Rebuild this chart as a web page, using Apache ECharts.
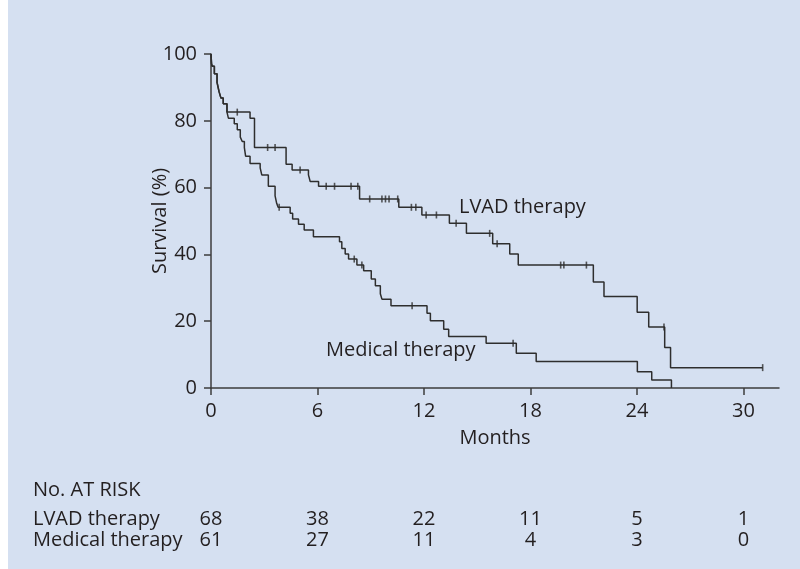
<!DOCTYPE html>
<html>
<head>
<meta charset="utf-8">
<script src="https://cdn.jsdelivr.net/npm/echarts@6/dist/echarts.min.js"></script>
<style>
  html, body { margin: 0; padding: 0; background: #ffffff; }
  #chart {
    width: 800px; height: 569px;
    background: linear-gradient(to right, #ffffff 0, #ffffff 8px, #d5e0f1 8px);
  }
</style>
</head>
<body>
<div id="chart"></div>
<script>
// Kaplan-Meier survival, LVAD therapy vs medical therapy (months, % surviving)
const lvadTimes = [0, 0.03, 0.07, 0.19, 0.34, 0.45, 0.56, 0.69, 0.9, 2.2, 2.45, 4.23, 4.57, 5.49, 5.59, 6.06,
  8.37, 10.58, 11.88, 13.43, 14.39, 15.87, 16.83, 17.31, 21.54, 22.14, 24.01, 24.66, 25.56, 25.89, 31.08];
const lvadSurvival = [100, 97.1, 96.3, 94.1, 91.5, 88.8, 86.8, 85.1, 82.6, 80.8, 72.0, 67.0, 65.3, 63.8, 61.8, 60.4,
  56.6, 54.1, 51.8, 49.3, 46.3, 43.2, 40.1, 36.8, 31.7, 27.4, 22.7, 18.3, 12.1, 6.1, 6.1];
const lvadCensored = [1.48, 3.19, 3.61, 5.02, 6.49, 6.96, 7.89, 8.27, 8.94, 9.63, 9.83, 10.03, 10.52, 11.29, 11.54,
  12.12, 12.70, 13.81, 15.70, 16.12, 19.70, 19.88, 21.15, 25.52, 31.08];

const medTimes = [0, 0.03, 0.07, 0.19, 0.34, 0.45, 0.56, 0.69, 0.9, 0.98, 1.31, 1.48, 1.65, 1.76, 1.88, 1.95, 2.2,
  2.77, 2.86, 3.23, 3.61, 3.7, 3.78, 4.46, 4.6, 4.93, 5.25, 5.77, 7.24, 7.37, 7.56, 7.75, 8.22, 8.6, 9.03, 9.26,
  9.54, 9.63, 10.14, 12.17, 12.36, 13.11, 13.39, 15.5, 17.2, 18.32, 24.02, 24.83, 25.94];
const medSurvival = [100, 97.1, 96.3, 94.1, 91.5, 88.8, 86.8, 85.1, 82.6, 80.8, 79.1, 77.3, 75.1, 73.8, 72.0, 69.4, 67.2,
  65.9, 63.8, 60.4, 57.5, 55.3, 54.1, 52.3, 50.6, 49.0, 47.3, 45.3, 43.8, 41.8, 40.1, 38.6, 36.8, 35.1, 32.6, 30.6,
  28.2, 26.6, 24.6, 22.4, 20.1, 17.6, 15.4, 13.4, 10.4, 7.9, 4.9, 2.4, 0];
const medCensored = [3.84, 8.07, 8.5, 11.33, 17.02];

const monthTicks = [0, 6, 12, 18, 24, 30];
const riskTitle = 'No. AT RISK';
const groupNames = ['LVAD therapy', 'Medical therapy'];
const lvadAtRisk = [68, 38, 22, 11, 5, 1];
const medAtRisk = [61, 27, 11, 4, 3, 0];

const INK = '#231f20';
const LINE = '#2e2e2e';
const FONT = 'Open Sans';

function curve(times, surv) {
  return times.map((t, i) => [t, surv[i]]);
}
// survival level of a step curve at time t
function levelAt(times, surv, t) {
  let s = surv[0];
  for (let i = 0; i < times.length; i++) if (times[i] <= t) s = surv[i];
  return s;
}
function censorMarks(ct, times, surv) {
  return ct.map(t => [t, levelAt(times, surv, t)]);
}

const chart = echarts.init(document.getElementById('chart'), null, { renderer: 'canvas' });

const textBase = { fontFamily: FONT, fontSize: 20, color: INK };

chart.setOption({
  animation: false,
  backgroundColor: 'transparent',
  grid: { left: 211, right: 21, top: 54, bottom: 181, containLabel: false, outerBoundsMode: 'none' },
  xAxis: {
    type: 'value', min: 0, max: 32,
    name: 'Months', nameLocation: 'middle', nameGap: 40, nameMoveOverlap: false,
    nameTextStyle: textBase,
    axisLine: { show: true, lineStyle: { color: '#3c3c3c', width: 1.5 } },
    axisTick: { show: true, length: 7, customValues: monthTicks, lineStyle: { color: '#3c3c3c', width: 1.5 } },
    axisLabel: Object.assign({ customValues: monthTicks, margin: 13 }, textBase),
    splitLine: { show: false }
  },
  yAxis: {
    type: 'value', min: 0, max: 100, interval: 20,
    name: 'Survival (%)', nameLocation: 'middle', nameGap: 41, nameRotate: 90, nameMoveOverlap: false,
    nameTextStyle: textBase,
    axisLine: { show: true, lineStyle: { color: '#3c3c3c', width: 1.5 } },
    axisTick: { show: true, length: 7, lineStyle: { color: '#3c3c3c', width: 1.5 } },
    axisLabel: Object.assign({ margin: 14 }, textBase),
    splitLine: { show: false }
  },
  series: [
    {
      name: groupNames[0], type: 'line', step: 'end', showSymbol: false,
      data: curve(lvadTimes, lvadSurvival),
      lineStyle: { color: LINE, width: 1.5 }, z: 3
    },
    {
      name: groupNames[1], type: 'line', step: 'end', showSymbol: false,
      data: curve(medTimes, medSurvival),
      lineStyle: { color: LINE, width: 1.5 }, z: 3
    },
    {
      type: 'scatter', symbol: 'rect', symbolSize: [1.6, 7],
      data: censorMarks(lvadCensored, lvadTimes, lvadSurvival),
      itemStyle: { color: LINE }, z: 4
    },
    {
      type: 'scatter', symbol: 'rect', symbolSize: [1.6, 7],
      data: censorMarks(medCensored, medTimes, medSurvival),
      itemStyle: { color: LINE }, z: 4
    }
  ]
});

function label(text, x, y) {
  return {
    type: 'text', x: x, y: y,
    style: { text: text, fontFamily: FONT, fontSize: 20, fill: INK, align: 'left', verticalAlign: 'middle' }
  };
}

// curve labels and the at-risk table, aligned to the month ticks
const elements = [
  label(groupNames[0], 459, 207),
  label(groupNames[1], 326, 350),
  label(riskTitle, 33, 490),
  label(groupNames[0], 33, 519),
  label(groupNames[1], 33, 540)
];
const rows = [[lvadAtRisk, 519], [medAtRisk, 540]];
rows.forEach(([counts, cy]) => {
  counts.forEach((n, i) => {
    const px = chart.convertToPixel({ xAxisIndex: 0 }, monthTicks[i]);
    elements.push({
      type: 'text', x: px, y: cy,
      style: { text: String(n), fontFamily: FONT, fontSize: 20, fill: INK, align: 'center', verticalAlign: 'middle' }
    });
  });
});
chart.setOption({ graphic: { elements: elements } });
</script>
</body>
</html>
